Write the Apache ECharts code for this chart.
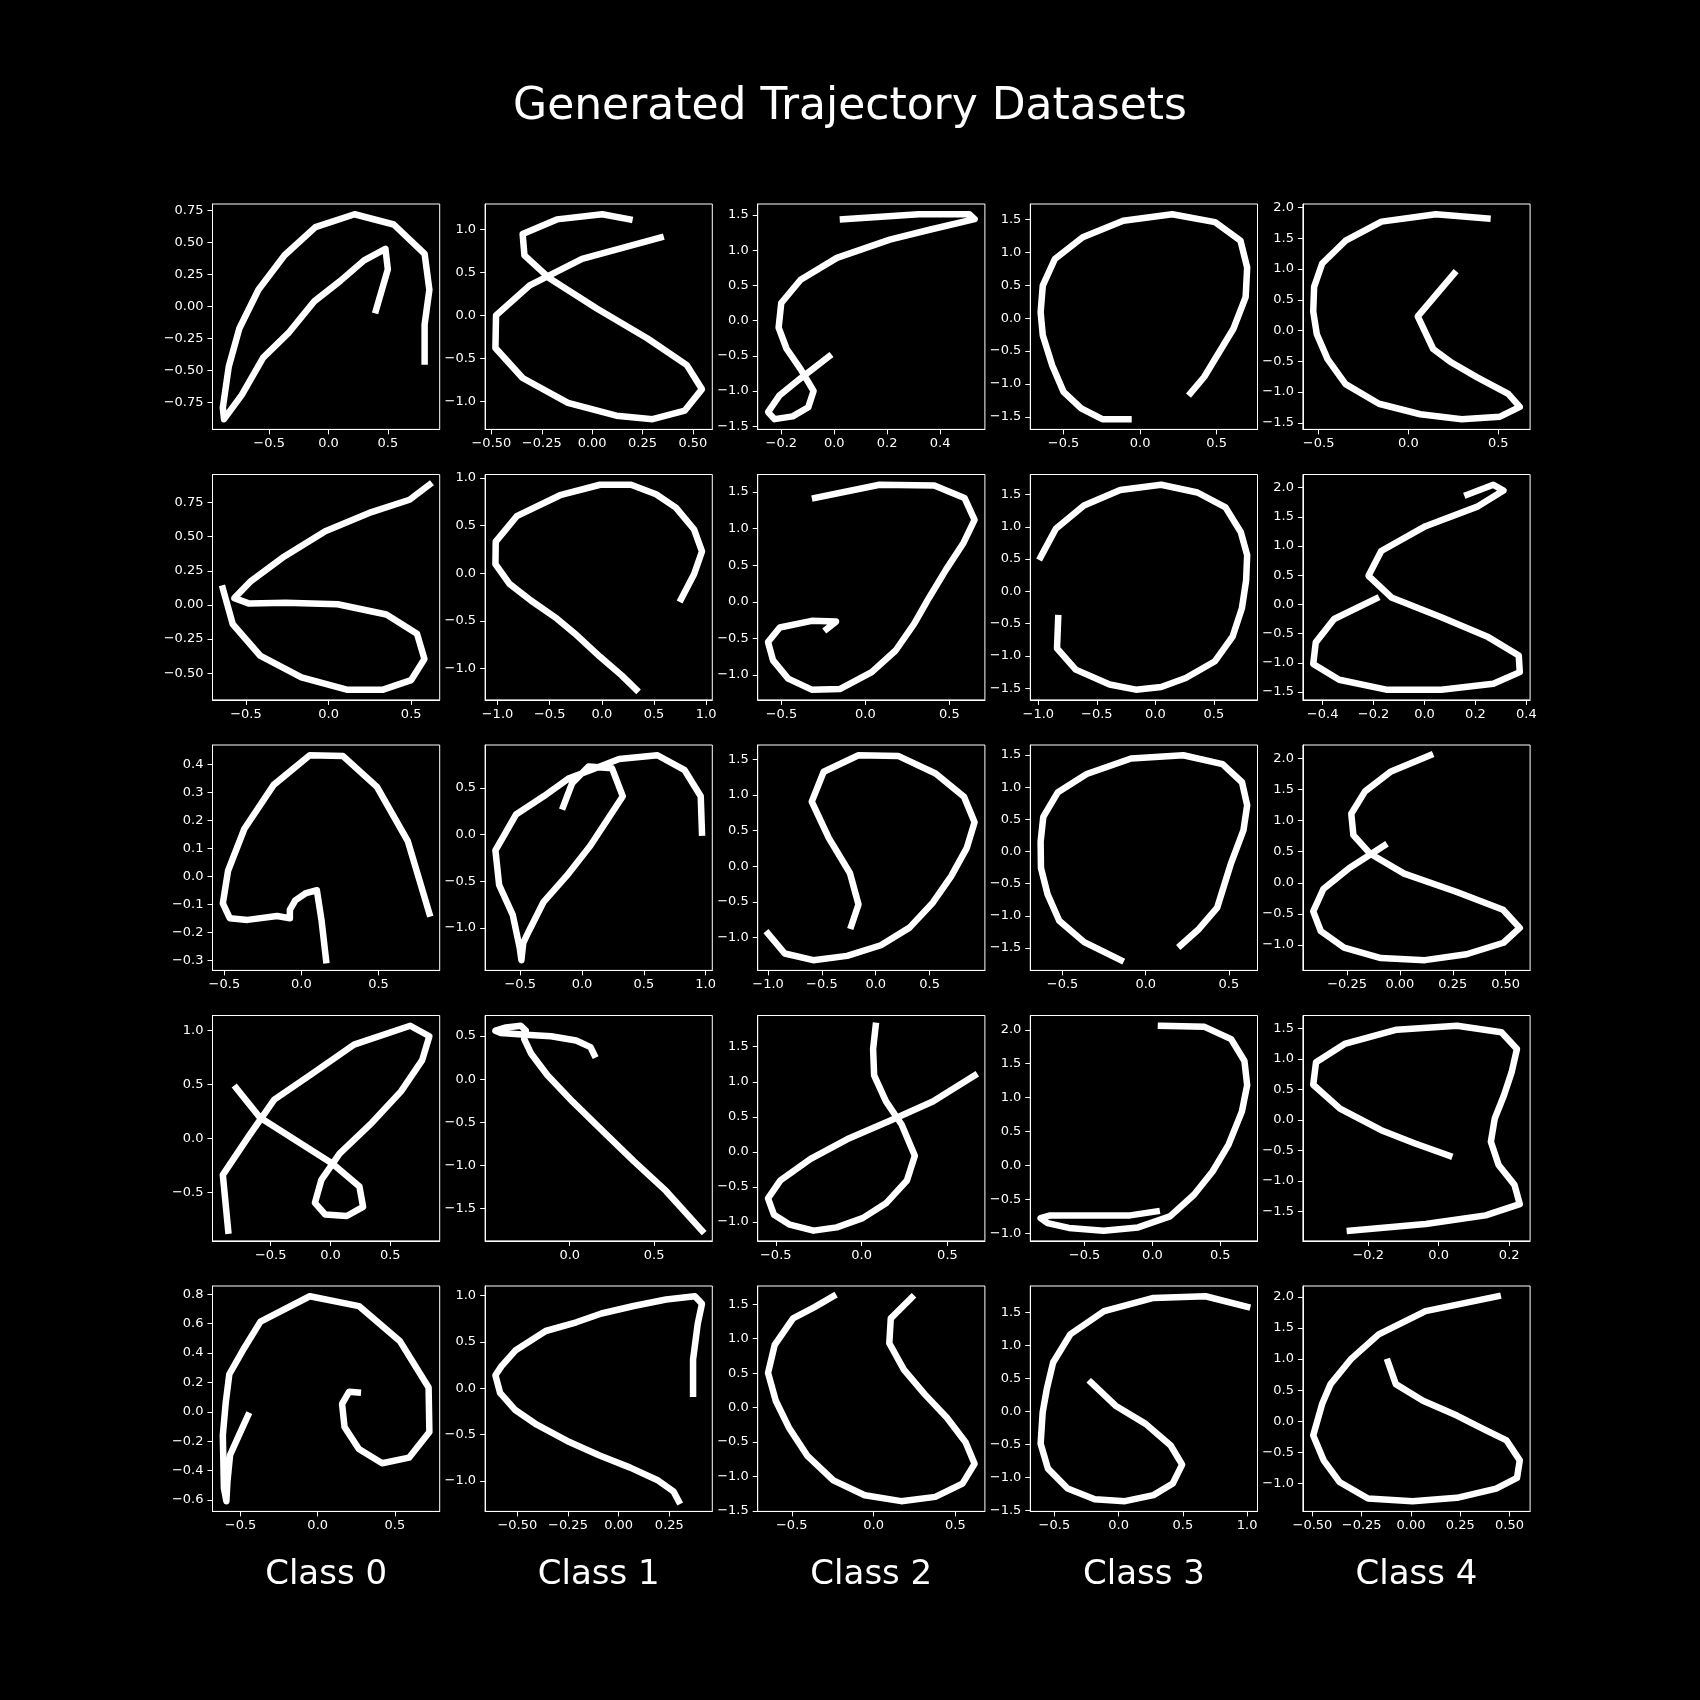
<!DOCTYPE html>
<html>
<head>
<meta charset="utf-8">
<title>Generated Trajectory Datasets</title>
<script src="https://cdn.jsdelivr.net/npm/echarts@6/dist/echarts.min.js"></script>
<style>
  html, body { margin: 0; padding: 0; background: #000; }
  #chart { width: 1700px; height: 1700px; }
</style>
</head>
<body>
<div id="chart"></div>
<script>
// one list of 5 trajectories per class, top row first; each point is [x, y]
var class0 = [
    [[0.81,-0.43],[0.81,-0.14],[0.85,0.13],[0.81,0.41],[0.55,0.64],[0.22,0.72],[-0.11,0.62],[-0.37,0.40],[-0.59,0.13],[-0.75,-0.17],[-0.84,-0.47],[-0.89,-0.79],[-0.88,-0.88],[-0.73,-0.69],[-0.55,-0.40],[-0.33,-0.20],[-0.12,0.04],[0.10,0.20],[0.30,0.36],[0.48,0.45],[0.50,0.29],[0.40,-0.03]],
    [[-0.64,0.12],[-0.58,-0.14],[-0.415,-0.37],[-0.164,-0.53],[0.11,-0.62],[0.33,-0.62],[0.50,-0.55],[0.58,-0.395],[0.535,-0.21],[0.35,-0.07],[0.055,0.005],[-0.26,0.017],[-0.48,0.01],[-0.57,0.05],[-0.47,0.175],[-0.28,0.345],[-0.02,0.54],[0.26,0.68],[0.49,0.77],[0.61,0.88]],
    [[0.16,-0.30],[0.13,-0.156],[0.10,-0.05],[0.03,-0.06],[-0.04,-0.086],[-0.075,-0.12],[-0.075,-0.15],[-0.158,-0.142],[-0.35,-0.156],[-0.465,-0.15],[-0.51,-0.097],[-0.476,0.02],[-0.37,0.17],[-0.18,0.327],[0.054,0.433],[0.27,0.43],[0.49,0.32],[0.69,0.126],[0.83,-0.133]],
    [[-0.855,-0.85],[-0.90,-0.335],[-0.68,0.027],[-0.47,0.36],[-0.167,0.588],[0.197,0.867],[0.667,1.042],[0.827,0.945],[0.767,0.724],[0.59,0.436],[0.348,0.148],[0.076,-0.139],[-0.076,-0.382],[-0.13,-0.594],[-0.045,-0.70],[0.136,-0.715],[0.273,-0.63],[0.242,-0.442],[0.015,-0.23],[-0.288,-0.018],[-0.59,0.194],[-0.788,0.467]],
    [[-0.452,-0.025],[-0.51,-0.159],[-0.568,-0.294],[-0.585,-0.473],[-0.592,-0.608],[-0.608,-0.518],[-0.615,-0.159],[-0.596,0.065],[-0.573,0.256],[-0.476,0.435],[-0.371,0.614],[-0.051,0.787],[0.267,0.72],[0.534,0.48],[0.719,0.166],[0.724,-0.137],[0.592,-0.312],[0.418,-0.35],[0.267,-0.253],[0.174,-0.103],[0.158,0.054],[0.204,0.137],[0.26,0.132]]
];
var class1 = [
    [[0.185,1.12],[0.05,1.18],[-0.175,1.12],[-0.345,0.95],[-0.336,0.70],[-0.21,0.43],[0.023,0.08],[0.275,-0.27],[0.47,-0.58],[0.545,-0.86],[0.46,-1.11],[0.30,-1.21],[0.12,-1.17],[-0.12,-1.02],[-0.345,-0.73],[-0.48,-0.38],[-0.477,0.0],[-0.31,0.35],[-0.05,0.66],[0.34,0.91]],
    [[0.33,-1.22],[0.19,-1.07],[-0.017,-0.875],[-0.26,-0.63],[-0.43,-0.475],[-0.68,-0.285],[-0.885,-0.11],[-1.02,0.097],[-1.017,0.333],[-0.816,0.60],[-0.40,0.82],[-0.017,0.93],[0.28,0.93],[0.52,0.83],[0.71,0.69],[0.885,0.46],[0.96,0.23],[0.885,-0.007],[0.76,-0.27]],
    [[-0.152,0.30],[-0.08,0.55],[0.053,0.73],[0.243,0.71],[0.33,0.41],[0.067,-0.12],[-0.123,-0.44],[-0.31,-0.72],[-0.43,-1.035],[-0.475,-1.16],[-0.49,-1.345],[-0.504,-1.21],[-0.56,-0.86],[-0.67,-0.54],[-0.70,-0.17],[-0.534,0.215],[-0.31,0.41],[-0.11,0.60],[0.067,0.69],[0.30,0.81],[0.61,0.85],[0.83,0.69],[0.96,0.41],[0.97,0.02]],
    [[0.145,0.284],[0.123,0.372],[0.038,0.449],[-0.11,0.498],[-0.26,0.517],[-0.408,0.536],[-0.44,0.563],[-0.377,0.60],[-0.29,0.62],[-0.26,0.563],[-0.27,0.467],[-0.228,0.295],[-0.132,0.046],[0.017,-0.26],[0.208,-0.625],[0.379,-0.95],[0.57,-1.295],[0.783,-1.755]],
    [[0.367,-0.06],[0.367,0.309],[0.39,0.695],[0.411,0.912],[0.376,0.993],[0.234,0.958],[0.074,0.888],[-0.085,0.807],[-0.209,0.712],[-0.36,0.618],[-0.51,0.407],[-0.578,0.239],[-0.608,0.14],[-0.585,-0.049],[-0.51,-0.235],[-0.404,-0.393],[-0.254,-0.568],[-0.094,-0.726],[0.057,-0.856],[0.19,-0.989],[0.27,-1.112],[0.296,-1.218]]
];
var class2 = [
    [[0.033,1.44],[0.32,1.51],[0.51,1.51],[0.53,1.44],[0.36,1.29],[0.21,1.15],[0.01,0.89],[-0.127,0.58],[-0.20,0.25],[-0.21,-0.10],[-0.18,-0.40],[-0.127,-0.69],[-0.078,-1.0],[-0.098,-1.23],[-0.157,-1.36],[-0.225,-1.40],[-0.25,-1.30],[-0.206,-1.06],[-0.127,-0.82],[-0.02,-0.51]],
    [[-0.30,1.42],[0.084,1.60],[0.41,1.59],[0.59,1.42],[0.65,1.12],[0.584,0.805],[0.48,0.44],[0.38,0.06],[0.29,-0.30],[0.18,-0.665],[0.0375,-0.96],[-0.15,-1.19],[-0.32,-1.20],[-0.46,-1.05],[-0.55,-0.80],[-0.58,-0.55],[-0.51,-0.35],[-0.32,-0.26],[-0.175,-0.27],[-0.23,-0.37]],
    [[-0.227,-0.837],[-0.16,-0.535],[-0.24,-0.093],[-0.435,0.395],[-0.594,0.907],[-0.483,1.326],[-0.16,1.558],[0.208,1.549],[0.556,1.302],[0.82,0.977],[0.918,0.619],[0.845,0.256],[0.70,-0.14],[0.53,-0.51],[0.314,-0.86],[0.048,-1.107],[-0.266,-1.256],[-0.58,-1.316],[-0.845,-1.223],[-1.0,-0.944]],
    [[0.082,1.80],[0.067,1.47],[0.073,1.09],[0.142,0.72],[0.233,0.39],[0.31,-0.056],[0.264,-0.41],[0.142,-0.737],[0.006,-0.948],[-0.145,-1.08],[-0.28,-1.127],[-0.418,-1.042],[-0.51,-0.90],[-0.545,-0.667],[-0.473,-0.408],[-0.297,-0.103],[-0.085,0.178],[0.158,0.437],[0.415,0.718],[0.658,1.09]],
    [[-0.246,1.615],[-0.358,1.461],[-0.492,1.294],[-0.604,0.91],[-0.645,0.503],[-0.597,0.096],[-0.518,-0.287],[-0.406,-0.695],[-0.246,-1.054],[-0.054,-1.27],[0.169,-1.356],[0.377,-1.294],[0.543,-1.102],[0.617,-0.815],[0.562,-0.503],[0.447,-0.144],[0.313,0.192],[0.185,0.551],[0.096,0.934],[0.105,1.294],[0.233,1.596]]
];
var class3 = [
    [[-0.076,-1.535],[-0.247,-1.535],[-0.385,-1.37],[-0.50,-1.12],[-0.574,-0.72],[-0.636,-0.26],[-0.65,0.09],[-0.636,0.495],[-0.557,0.90],[-0.375,1.23],[-0.11,1.48],[0.21,1.58],[0.49,1.46],[0.656,1.18],[0.70,0.77],[0.69,0.32],[0.61,-0.16],[0.49,-0.62],[0.42,-0.89],[0.33,-1.14]],
    [[-0.98,0.53],[-0.85,0.97],[-0.61,1.33],[-0.30,1.57],[0.05,1.65],[0.36,1.53],[0.60,1.30],[0.73,0.92],[0.785,0.56],[0.776,0.17],[0.74,-0.26],[0.66,-0.70],[0.51,-1.08],[0.26,-1.34],[0.05,-1.48],[-0.166,-1.52],[-0.39,-1.44],[-0.68,-1.21],[-0.84,-0.88],[-0.83,-0.415]],
    [[-0.15,-1.69],[-0.37,-1.41],[-0.52,-1.077],[-0.59,-0.667],[-0.63,-0.256],[-0.632,0.154],[-0.616,0.538],[-0.528,0.923],[-0.355,1.205],[-0.088,1.446],[0.226,1.497],[0.462,1.359],[0.579,1.077],[0.61,0.718],[0.588,0.333],[0.51,-0.205],[0.43,-0.872],[0.32,-1.205],[0.21,-1.46]],
    [[0.063,2.06],[0.384,2.044],[0.58,1.863],[0.678,1.54],[0.698,1.186],[0.659,0.794],[0.56,0.304],[0.443,-0.088],[0.306,-0.431],[0.129,-0.75],[-0.106,-0.912],[-0.36,-0.96],[-0.616,-0.92],[-0.773,-0.848],[-0.824,-0.775],[-0.753,-0.735],[-0.478,-0.735],[-0.165,-0.735],[0.031,-0.676]],
    [[-0.215,0.442],[-0.024,0.09],[0.21,-0.186],[0.405,-0.513],[0.494,-0.804],[0.421,-1.09],[0.271,-1.266],[0.049,-1.357],[-0.186,-1.327],[-0.397,-1.166],[-0.55,-0.864],[-0.607,-0.487],[-0.591,-0.01],[-0.559,0.342],[-0.51,0.744],[-0.377,1.17],[-0.113,1.523],[0.271,1.724],[0.676,1.749],[1.0,1.588]]
];
var class4 = [
    [[0.44,1.82],[0.153,1.89],[-0.15,1.77],[-0.35,1.46],[-0.48,1.09],[-0.525,0.71],[-0.53,0.31],[-0.51,-0.06],[-0.45,-0.465],[-0.35,-0.87],[-0.164,-1.19],[0.066,-1.36],[0.297,-1.44],[0.51,-1.40],[0.62,-1.24],[0.556,-1.03],[0.383,-0.76],[0.24,-0.52],[0.138,-0.30],[0.052,0.23],[0.254,0.925]],
    [[0.168,1.88],[0.27,2.05],[0.31,1.95],[0.21,1.68],[0.004,1.34],[-0.17,0.915],[-0.22,0.49],[-0.13,0.12],[0.066,-0.22],[0.25,-0.56],[0.37,-0.875],[0.374,-1.16],[0.27,-1.36],[0.066,-1.46],[-0.15,-1.46],[-0.335,-1.29],[-0.437,-1.02],[-0.427,-0.65],[-0.355,-0.25],[-0.19,0.10]],
    [[0.143,2.05],[-0.042,1.79],[-0.165,1.47],[-0.23,1.11],[-0.22,0.767],[-0.14,0.466],[0.02,0.148],[0.266,-0.143],[0.488,-0.434],[0.567,-0.725],[0.49,-0.963],[0.315,-1.148],[0.118,-1.243],[-0.09,-1.21],[-0.264,-1.042],[-0.374,-0.778],[-0.41,-0.46],[-0.362,-0.10],[-0.239,0.238],[-0.074,0.598]],
    [[0.03,-0.587],[-0.067,-0.386],[-0.163,-0.168],[-0.28,0.185],[-0.356,0.576],[-0.348,0.946],[-0.267,1.245],[-0.119,1.478],[0.052,1.543],[0.178,1.435],[0.222,1.163],[0.207,0.783],[0.185,0.40],[0.159,0.022],[0.148,-0.359],[0.17,-0.74],[0.215,-1.065],[0.23,-1.38],[0.133,-1.565],[-0.037,-1.707],[-0.252,-1.815]],
    [[-0.117,0.955],[-0.077,0.597],[0.061,0.33],[0.233,0.091],[0.366,-0.123],[0.485,-0.309],[0.552,-0.629],[0.538,-0.912],[0.432,-1.083],[0.233,-1.232],[0.008,-1.285],[-0.218,-1.243],[-0.363,-0.976],[-0.443,-0.629],[-0.496,-0.229],[-0.451,0.277],[-0.408,0.597],[-0.302,1.008],[-0.164,1.397],[0.074,1.77],[0.44,2.01]]
];

// tick labels, per class, top row first
var class0XTicks = [[-0.5,0,0.5],[-0.5,0,0.5],[-0.5,0,0.5],[-0.5,0,0.5],[-0.5,0,0.5]];
var class0YTicks = [[-0.75,-0.5,-0.25,0,0.25,0.5,0.75],[-0.5,-0.25,0,0.25,0.5,0.75],[-0.3,-0.2,-0.1,0,0.1,0.2,0.3,0.4],[-0.5,0,0.5,1],[-0.6,-0.4,-0.2,0,0.2,0.4,0.6,0.8]];
var class1XTicks = [[-0.5,-0.25,0,0.25,0.5],[-1,-0.5,0,0.5,1],[-0.5,0,0.5,1],[0,0.5],[-0.5,-0.25,0,0.25]];
var class1YTicks = [[-1,-0.5,0,0.5,1],[-1,-0.5,0,0.5,1],[-1,-0.5,0,0.5],[-1.5,-1,-0.5,0,0.5],[-1,-0.5,0,0.5,1]];
var class2XTicks = [[-0.2,0,0.2,0.4],[-0.5,0,0.5],[-1,-0.5,0,0.5],[-0.5,0,0.5],[-0.5,0,0.5]];
var class2YTicks = [[-1.5,-1,-0.5,0,0.5,1,1.5],[-1,-0.5,0,0.5,1,1.5],[-1,-0.5,0,0.5,1,1.5],[-1,-0.5,0,0.5,1,1.5],[-1.5,-1,-0.5,0,0.5,1,1.5]];
var class3XTicks = [[-0.5,0,0.5],[-1,-0.5,0,0.5],[-0.5,0,0.5],[-0.5,0,0.5],[-0.5,0,0.5,1]];
var class3YTicks = [[-1.5,-1,-0.5,0,0.5,1,1.5],[-1.5,-1,-0.5,0,0.5,1,1.5],[-1.5,-1,-0.5,0,0.5,1,1.5],[-1,-0.5,0,0.5,1,1.5,2],[-1.5,-1,-0.5,0,0.5,1,1.5]];
var class4XTicks = [[-0.5,0,0.5],[-0.4,-0.2,0,0.2,0.4],[-0.25,0,0.25,0.5],[-0.2,0,0.2],[-0.5,-0.25,0,0.25,0.5]];
var class4YTicks = [[-1.5,-1,-0.5,0,0.5,1,1.5,2],[-1.5,-1,-0.5,0,0.5,1,1.5,2],[-1,-0.5,0,0.5,1,1.5,2],[-1.5,-1,-0.5,0,0.5,1,1.5],[-1,-0.5,0,0.5,1,1.5,2]];

var classNames = ['Class 0', 'Class 1', 'Class 2', 'Class 3', 'Class 4'];
var chartTitle = 'Generated Trajectory Datasets';

var classes = [class0, class1, class2, class3, class4];
var xTicks = [class0XTicks, class1XTicks, class2XTicks, class3XTicks, class4XTicks];
var yTicks = [class0YTicks, class1YTicks, class2YTicks, class3YTicks, class4YTicks];

// layout (matplotlib subplot grid on a 1700px figure)
var colLeft = [212.5, 485.1, 757.7, 1030.3, 1302.9];
var rowTop = [204, 474.5, 745, 1015.5, 1286];
var cellW = 227.2, cellH = 225.4;
var fontFamily = 'DejaVu Sans';

function decimalsOf(ticks) {
    var d = 1;
    ticks.forEach(function (t) {
        var s = String(t);
        var i = s.indexOf('.');
        if (i >= 0) d = Math.max(d, s.length - i - 1);
    });
    return d;
}

function makeFormatter(ticks) {
    var d = decimalsOf(ticks);
    return function (v) {
        var s = Math.abs(v).toFixed(d);
        return (v < -1e-9 ? '\u2212' : '') + s;
    };
}

// matplotlib style 5% padding
function padRange(vals) {
    var lo = Math.min.apply(null, vals), hi = Math.max.apply(null, vals);
    var m = (hi - lo) * 0.05;
    return [lo - m, hi + m];
}

function axisBase(ticks, range, margin) {
    return {
        type: 'value',
        min: range[0],
        max: range[1],
        splitLine: { show: false },
        axisLine: { show: true, onZero: false, lineStyle: { color: '#ffffff', width: 1 } },
        axisTick: { show: true, length: 5, customValues: ticks, lineStyle: { color: '#ffffff', width: 1 } },
        axisLabel: {
            show: true,
            customValues: ticks,
            color: '#ffffff',
            fontSize: 13,
            fontFamily: fontFamily,
            margin: margin,
            formatter: makeFormatter(ticks)
        }
    };
}

var grids = [], xAxes = [], yAxes = [], series = [];
for (var c = 0; c < 5; c++) {
    for (var r = 0; r < 5; r++) {
        var idx = grids.length;
        var traj = classes[c][r];
        var xr = padRange(traj.map(function (p) { return p[0]; }));
        var yr = padRange(traj.map(function (p) { return p[1]; }));
        grids.push({
            left: colLeft[c], top: rowTop[r], width: cellW, height: cellH,
            show: true, borderColor: '#ffffff', borderWidth: 1, backgroundColor: '#000000',
            containLabel: false, outerBoundsMode: 'none'
        });
        var xa = axisBase(xTicks[c][r], xr, 8);
        xa.gridIndex = idx;
        xa.position = 'bottom';
        xAxes.push(xa);
        var ya = axisBase(yTicks[c][r], yr, 9);
        ya.gridIndex = idx;
        ya.position = 'left';
        yAxes.push(ya);
        series.push({
            type: 'line',
            xAxisIndex: idx,
            yAxisIndex: idx,
            data: traj,
            showSymbol: false,
            symbol: 'none',
            smooth: false,
            lineStyle: { color: '#ffffff', width: 6.5, cap: 'square', join: 'round' }
        });
    }
}

var texts = [{
    type: 'text', x: 850, y: 108,
    style: { text: chartTitle, fill: '#ffffff', font: 'normal 44px "DejaVu Sans"',
             textAlign: 'center', textVerticalAlign: 'middle', align: 'center', verticalAlign: 'middle' }
}];
classNames.forEach(function (name, i) {
    texts.push({
        type: 'text', x: colLeft[i] + cellW / 2, y: 1575,
        style: { text: name, fill: '#ffffff', font: 'normal 34px "DejaVu Sans"',
                 textAlign: 'center', textVerticalAlign: 'middle', align: 'center', verticalAlign: 'middle' }
    });
});

var chart = echarts.init(document.getElementById('chart'), null, { renderer: 'canvas' });
chart.setOption({
    backgroundColor: '#000000',
    animation: false,
    grid: grids,
    xAxis: xAxes,
    yAxis: yAxes,
    series: series,
    graphic: texts
});
</script>
</body>
</html>
